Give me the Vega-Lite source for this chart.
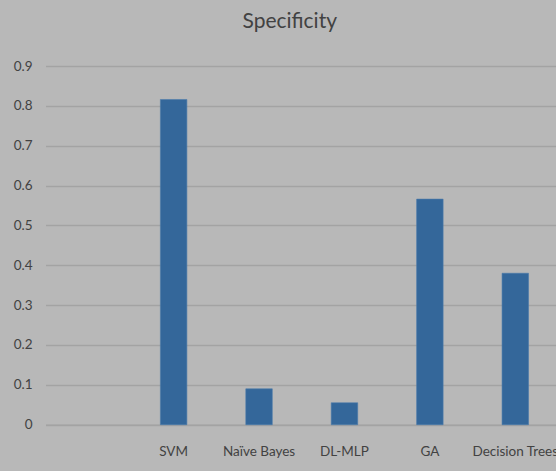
{
  "$schema": "https://vega.github.io/schema/vega-lite/v6.json",
  "autosize": {"type": "none"},
  "padding": {"left": 45.5, "top": 66, "right": 0, "bottom": 46.3},
  "width": 510.5,
  "height": 358.7,
  "background": "#b8b8b8",
  "title": {
    "text": "Specificity",
    "font": "Lato, sans-serif",
    "fontSize": 21,
    "fontWeight": "normal",
    "color": "#424242",
    "offset": 27,
    "dx": -11
  },
  "data": {
    "values": [
      {"method": "SVM", "specificity": 0.816},
      {"method": "Naïve Bayes", "specificity": 0.09},
      {"method": "DL-MLP", "specificity": 0.055},
      {"method": "GA", "specificity": 0.566},
      {"method": "Decision Trees", "specificity": 0.38}
    ]
  },
  "mark": {"type": "bar", "color": "#34679a", "stroke": "#4a7aab", "strokeWidth": 0.6, "clip": false},
  "encoding": {
    "x": {
      "field": "method",
      "type": "nominal",
      "sort": null,
      "scale": {
        "domain": ["", "SVM", "Naïve Bayes", "DL-MLP", "GA", "Decision Trees"],
        "range": [0, 512.5],
        "paddingInner": 0.69,
        "paddingOuter": 0.345
      },
      "axis": {
        "title": null,
        "labelAngle": 0,
        "labelFont": "Lato, sans-serif",
        "labelFontSize": 13.5,
        "labelColor": "#424242",
        "labelPadding": 20,
        "ticks": false,
        "tickSize": 0,
        "domain": true,
        "domainColor": "#a3a3a3",
        "domainWidth": 1.5,
        "grid": false
      }
    },
    "y": {
      "field": "specificity",
      "type": "quantitative",
      "scale": {"domain": [0, 0.9], "nice": false},
      "axis": {
        "title": null,
        "values": [0, 0.1, 0.2, 0.3, 0.4, 0.5, 0.6, 0.7, 0.8, 0.9],
        "format": "~g",
        "labelFont": "Lato, sans-serif",
        "labelFontSize": 13.5,
        "labelColor": "#424242",
        "labelPadding": 13.5,
        "ticks": false,
        "tickSize": 0,
        "domain": false,
        "grid": true,
        "gridColor": "#a3a3a3",
        "gridWidth": 1.5
      }
    }
  },
  "config": {
    "view": {"stroke": null}
  }
}
